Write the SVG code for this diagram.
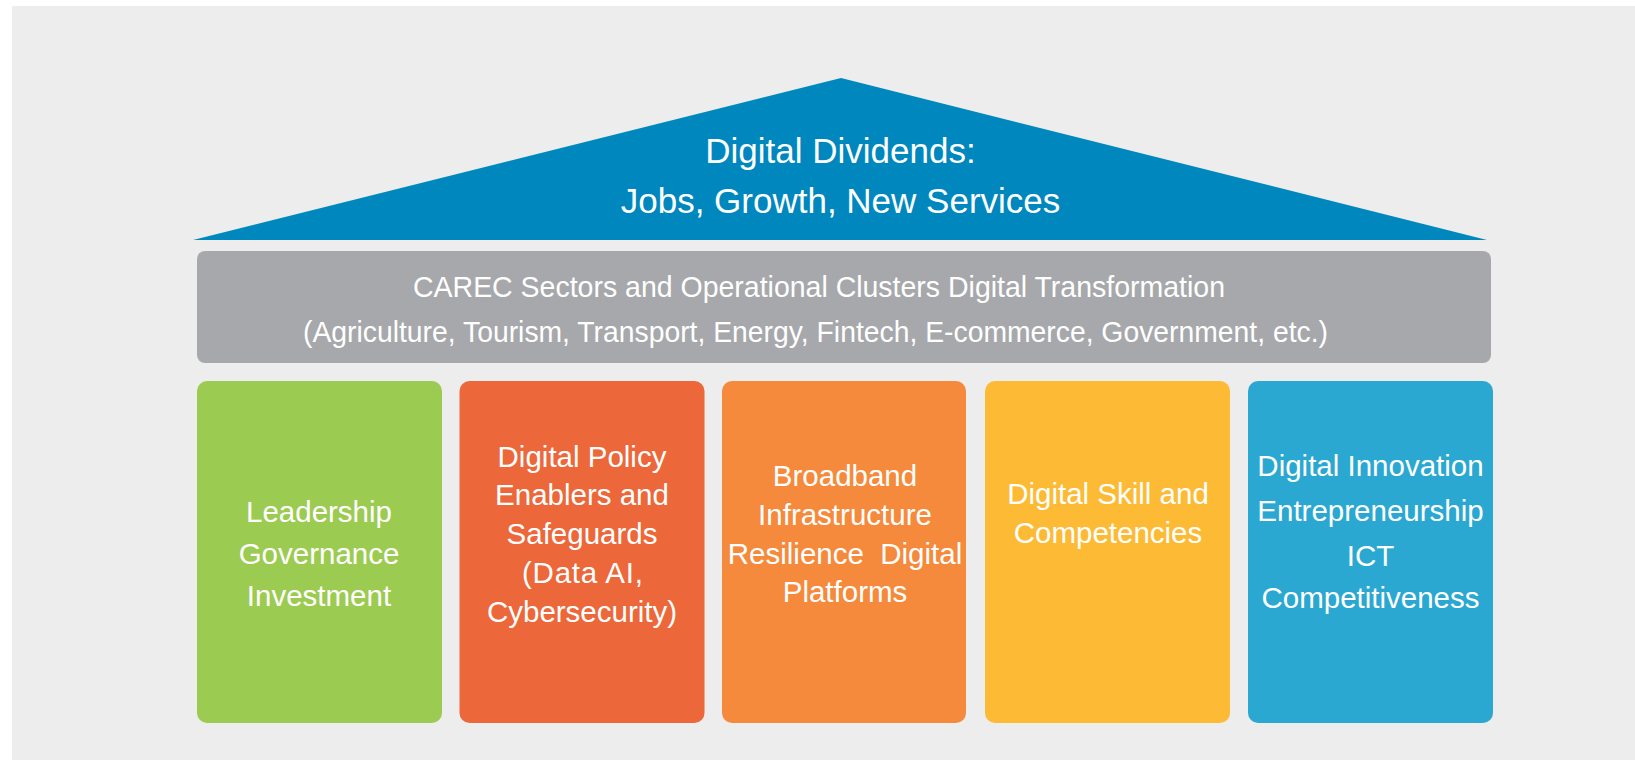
<svg xmlns="http://www.w3.org/2000/svg" width="1635" height="760" viewBox="0 0 1635 760">
<style>
text{font-family:"Liberation Sans",Arial,sans-serif;fill:#ffffff;text-anchor:middle}
.roof{font-size:35px}
.bar{font-size:29.5px}
.p{font-size:29.5px}
</style>
<rect x="0" y="0" width="1635" height="760" fill="#ffffff"/>
<rect x="12" y="6" width="1623" height="754" fill="#ededed"/>
<g id="roof">
<polygon points="193,240 841,78 1487,240" fill="#0087be"/>
<text class="roof" x="840.5" y="163">Digital Dividends:</text>
<text class="roof" x="840.5" y="213">Jobs, Growth, New Services</text>
</g>
<g id="sectors">
<rect x="197" y="251" width="1294" height="112" rx="8" fill="#a7a8ab"/>
<text class="bar" x="819" y="297" textLength="812" lengthAdjust="spacingAndGlyphs">CAREC Sectors and Operational Clusters Digital Transformation</text>
<text class="bar" x="815.5" y="342" textLength="1025" lengthAdjust="spacingAndGlyphs">(Agriculture, Tourism, Transport, Energy, Fintech, E-commerce, Government, etc.)</text>
</g>
<g id="pillar-leadership">
<rect x="197" y="381" width="245" height="342" rx="10" fill="#9ccb52"/>
<text class="p" x="319" y="522">Leadership</text>
<text class="p" x="319" y="564">Governance</text>
<text class="p" x="319" y="606">Investment</text>
</g>
<g id="pillar-policy">
<rect x="459.5" y="381" width="245" height="342" rx="10" fill="#ec6739"/>
<text class="p" x="582" y="467">Digital Policy</text>
<text class="p" x="582" y="505">Enablers and</text>
<text class="p" x="582" y="543.5">Safeguards</text>
<text class="p" x="582.5" y="583" textLength="121" lengthAdjust="spacing">(Data AI,</text>
<text class="p" x="582" y="621.5">Cybersecurity)</text>
</g>
<g id="pillar-broadband">
<rect x="722" y="381" width="244" height="342" rx="10" fill="#f58a3c"/>
<text class="p" x="845" y="485.5">Broadband</text>
<text class="p" x="845" y="525">Infrastructure</text>
<text class="p" x="845" y="563.5">Resilience&#160; Digital</text>
<text class="p" x="845" y="601.5">Platforms</text>
</g>
<g id="pillar-skills">
<rect x="985" y="381" width="245" height="342" rx="10" fill="#fdba35"/>
<text class="p" x="1108" y="504">Digital Skill and</text>
<text class="p" x="1108" y="542.5">Competencies</text>
</g>
<g id="pillar-innovation">
<rect x="1248" y="381" width="245" height="342" rx="10" fill="#2ba8d1"/>
<text class="p" x="1370.5" y="476">Digital Innovation</text>
<text class="p" x="1370.5" y="521">Entrepreneurship</text>
<text class="p" x="1370.5" y="566">ICT</text>
<text class="p" x="1370.5" y="608">Competitiveness</text>
</g>
<g id="connectors"></g>
</svg>
